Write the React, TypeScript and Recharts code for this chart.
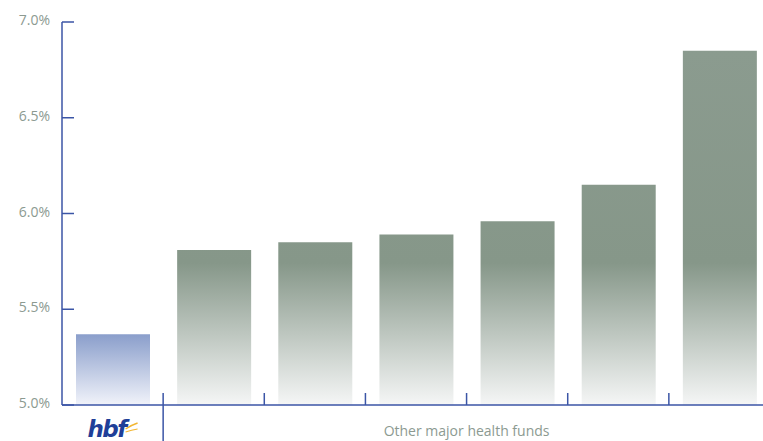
import React from "react";
import { BarChart, Bar, XAxis, YAxis, Cell } from "recharts";

const categories = ["hbf", "Fund B", "Fund C", "Fund D", "Fund E", "Fund F", "Fund G"];
const rates = [5.37, 5.81, 5.85, 5.89, 5.96, 6.15, 6.85];
const yTicks = [5.0, 5.5, 6.0, 6.5, 7.0];
const groupLabel = "Other major health funds";

const data = categories.map((name, i) => ({ name, rate: rates[i] }));

const AXIS_BLUE = "#3b55a6";
const TEXT_GREY = "#8c9a91";
const FONT = "'Open Sans', 'Noto Sans', sans-serif";

const CHART_W = 770;
const CHART_H = 441;
const Y_AXIS_W = 62;
const BAND = (CHART_W - Y_AXIS_W) / categories.length;

const YTick = (props: any) => {
  const { x, y, payload } = props;
  return (
    <g>
      <line x1={x + 12} x2={x + 24} y1={y} y2={y} stroke={AXIS_BLUE} strokeWidth={1.5} />
      <text
        x={x}
        y={y}
        dy={3}
        textAnchor="end"
        fill={TEXT_GREY}
        fontSize={14}
        fontFamily={FONT}
      >
        {payload.value.toFixed(1) + "%"}
      </text>
    </g>
  );
};

const XTick = (props: any) => {
  const { x, y, index } = props;
  const edge = x + BAND / 2;
  return (
    <g>
      {index < categories.length - 1 && (
        <line
          x1={edge}
          x2={edge}
          y1={y - 12}
          y2={index === 0 ? y + 36 : y}
          stroke={AXIS_BLUE}
          strokeWidth={1.5}
        />
      )}
      {index === 0 && (
        <g>
          <text
            x={x - 6}
            y={y + 32}
            textAnchor="middle"
            fill="#1f3f98"
            fontSize={23}
            fontWeight="bold"
            fontStyle="italic"
            fontFamily="'DejaVu Sans', sans-serif"
            letterSpacing={-1.5}
          >
            hbf
          </text>
          <path
            d={`M ${x + 13} ${y + 24} Q ${x + 19} ${y + 20} ${x + 25} ${y + 18}`}
            stroke="#f2b632"
            strokeWidth={1.5}
            fill="none"
          />
          <path
            d={`M ${x + 13} ${y + 27} Q ${x + 19} ${y + 25} ${x + 25} ${y + 24}`}
            stroke="#f2b632"
            strokeWidth={1.2}
            fill="none"
          />
        </g>
      )}
      {index === 3 && (
        <text
          x={edge}
          y={y + 31}
          textAnchor="middle"
          fill={TEXT_GREY}
          fontSize={14}
          fontFamily={FONT}
        >
          {groupLabel}
        </text>
      )}
    </g>
  );
};

export default function App() {
  return (
    <div
      style={{
        position: "fixed",
        top: 0,
        left: 0,
        width: 763,
        height: 441,
        overflow: "hidden",
        background: "#fff",
        fontFamily: FONT,
      }}
    >
      <BarChart
        width={CHART_W}
        height={CHART_H}
        data={data}
        margin={{ top: 22, right: 0, bottom: 0, left: 0 }}
      >
        <defs>
          <linearGradient id="fundGrad" gradientUnits="userSpaceOnUse" x1="0" y1="50" x2="0" y2="405">
            <stop offset="0" stopColor="#8b9b8f" />
            <stop offset="0.6" stopColor="#869789" />
            <stop offset="1" stopColor="#f5f6f6" />
          </linearGradient>
          <linearGradient id="hbfGrad" x1="0" y1="0" x2="0" y2="1">
            <stop offset="0" stopColor="#8a9ecb" />
            <stop offset="1" stopColor="#f1f3fa" />
          </linearGradient>
        </defs>
        <XAxis
          dataKey="name"
          height={36}
          interval={0}
          axisLine={{ stroke: AXIS_BLUE, strokeWidth: 1.5 }}
          tickLine={false}
          tickSize={0}
          tickMargin={0}
          tick={<XTick />}
        />
        <YAxis
          width={Y_AXIS_W}
          domain={[5, 7]}
          ticks={yTicks}
          interval={0}
          axisLine={{ stroke: AXIS_BLUE, strokeWidth: 1.5 }}
          tickLine={false}
          tickSize={0}
          tickMargin={12}
          tick={<YTick />}
        />
        <Bar dataKey="rate" barSize={74} isAnimationActive={false}>
          {data.map((entry, i) => (
            <Cell key={entry.name} fill={i === 0 ? "url(#hbfGrad)" : "url(#fundGrad)"} />
          ))}
        </Bar>
      </BarChart>
    </div>
  );
}
